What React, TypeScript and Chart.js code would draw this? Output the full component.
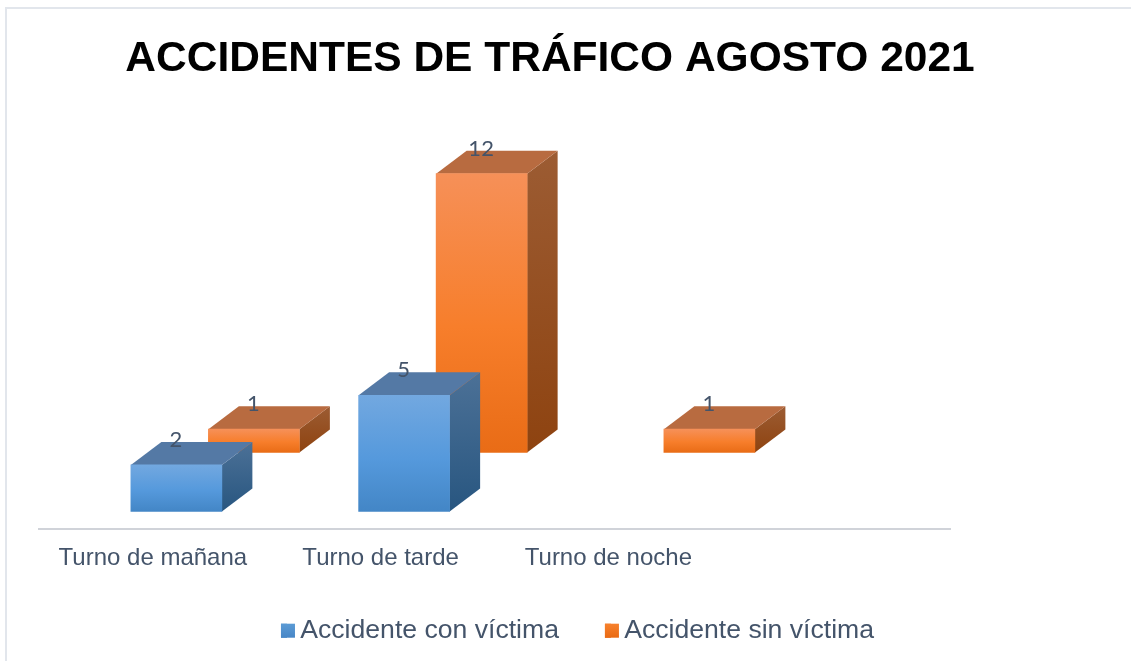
import React, { useEffect, useRef } from "react";
import { Chart, registerables } from "chart.js";

Chart.register(...registerables);

const categories = ["Turno de mañana", "Turno de tarde", "Turno de noche", ""];
const seriesNames = ["Accidente con víctima", "Accidente sin víctima"];
const conVictima = [2, 5, null, null];
const sinVictima = [1, 12, 1, null];

const TEXT = "#44546A";
const SANS = "'Liberation Sans', Arial, sans-serif";

const looks = [
  {
    dx: 23.5, dy: 0,
    front: ["#72A8E0", "#5599DC", "#4386C6"],
    side: ["#4C7197", "#285680"],
    top: "#5479A5",
    swatch: ["#5B9BD5", "#4786C6"],
  },
  {
    dx: 101, dy: -59,
    front: ["#F69058", "#F77E2B", "#E96C16"],
    side: ["#9C5C33", "#8E4310"],
    top: "#B86B40",
    swatch: ["#F7812D", "#E96A13"],
  },
];
const DEPTH_X = 30.5;
const DEPTH_Y = 23;

const frontFill = (look: any) => (c: any) => {
  const v = c.raw;
  if (v == null) return look.front[1];
  const y = c.chart.scales.y;
  const g = c.chart.ctx.createLinearGradient(0, y.getPixelForValue(v), 0, y.getPixelForValue(0));
  g.addColorStop(0, look.front[0]);
  g.addColorStop(0.55, look.front[1]);
  g.addColorStop(1, look.front[2]);
  return g;
};

const bars3d = {
  id: "bars3d",
  afterLayout(chart: any) {
    const t = chart.titleBlock;
    t.left += 55.5; t.right += 55.5;
    const l = chart.legend;
    l.left += 83; l.right += 83;
    l.top -= 7; l.bottom -= 7;
  },
  beforeDatasetDraw(chart: any, args: any) {
    const look = looks[args.index];
    const ctx = chart.ctx;
    ctx.save();
    ctx.translate(look.dx, look.dy);
    args.meta.data.forEach((bar: any, i: number) => {
      if (chart.data.datasets[args.index].data[i] == null) return;
      const { x, y, base, width } = bar.getProps(["x", "y", "base", "width"], true);
      const r = x + width / 2;
      const l = x - width / 2;
      const g = ctx.createLinearGradient(0, y - DEPTH_Y, 0, base);
      g.addColorStop(0, look.side[0]);
      g.addColorStop(1, look.side[1]);
      ctx.fillStyle = g;
      ctx.beginPath();
      ctx.moveTo(r, y);
      ctx.lineTo(r + DEPTH_X, y - DEPTH_Y);
      ctx.lineTo(r + DEPTH_X, base - DEPTH_Y);
      ctx.lineTo(r, base);
      ctx.closePath();
      ctx.fill();
      ctx.fillStyle = look.top;
      ctx.beginPath();
      ctx.moveTo(l, y);
      ctx.lineTo(l + DEPTH_X, y - DEPTH_Y);
      ctx.lineTo(r + DEPTH_X, y - DEPTH_Y);
      ctx.lineTo(r, y);
      ctx.closePath();
      ctx.fill();
    });
  },
  afterDatasetDraw(chart: any) {
    chart.ctx.restore();
  },
  afterDatasetsDraw(chart: any) {
    const ctx = chart.ctx;
    ctx.save();
    ctx.font = "22px Lato, sans-serif";
    ctx.fillStyle = TEXT;
    ctx.textAlign = "center";
    ctx.textBaseline = "middle";
    chart.data.datasets.forEach((ds: any, d: number) => {
      const look = looks[d];
      chart.getDatasetMeta(d).data.forEach((bar: any, i: number) => {
        if (ds.data[i] == null) return;
        ctx.fillText(String(ds.data[i]), bar.x + look.dx - 0.5, bar.y + look.dy - 25);
      });
    });
    ctx.restore();
  },
  afterDraw(chart: any) {
    const ctx = chart.ctx;
    (chart.legend.legendHitBoxes || []).forEach((h: any, i: number) => {
      const look = looks[i];
      const cy = h.top + h.height / 2;
      const g = ctx.createLinearGradient(0, cy - 7, 0, cy + 7);
      g.addColorStop(0, look.swatch[0]);
      g.addColorStop(1, look.swatch[1]);
      ctx.fillStyle = g;
      ctx.fillRect(h.left, cy - 7, 14, 14);
    });
  },
};

export default function App() {
  const ref = useRef<HTMLCanvasElement>(null);
  useEffect(() => {
    const chart = new Chart(ref.current as HTMLCanvasElement, {
      type: "bar",
      data: {
        labels: categories,
        datasets: [
          { label: seriesNames[0], data: conVictima, backgroundColor: frontFill(looks[0]), barThickness: 91, clip: false, grouped: false },
          { label: seriesNames[1], data: sinVictima, backgroundColor: frontFill(looks[1]), barThickness: 91, clip: false, grouped: false },
        ] as any,
      },
      options: {
        responsive: false,
        animation: false,
        devicePixelRatio: 1,
        layout: { padding: { left: 39, right: 181, top: 0, bottom: 0 } },
        scales: {
          x: {
            grid: { display: false },
            border: { display: true, color: "#D0D3D9", width: 2 },
            ticks: { color: TEXT, font: { family: SANS, size: 24 }, padding: 7, maxRotation: 0, autoSkip: false },
            afterFit: (s: any) => { s.height = 49; },
          },
          y: { display: false, min: -0.776, max: 18.36 },
        },
        plugins: {
          title: {
            display: true,
            text: "ACCIDENTES DE TRÁFICO AGOSTO 2021",
            color: "#000000",
            font: { family: SANS, size: 42.5, weight: "bold" },
            padding: { top: 34, bottom: 0 },
          },
          legend: {
            position: "bottom",
            labels: {
              color: TEXT,
              font: { family: SANS, size: 26.6 },
              boxWidth: 6,
              boxHeight: 14,
              padding: 46,
              generateLabels: (chart: any) =>
                chart.data.datasets.map((ds: any, i: number) => ({
                  text: ds.label,
                  fillStyle: looks[i].swatch[1],
                  strokeStyle: looks[i].swatch[1],
                  lineWidth: 0,
                  fontColor: TEXT,
                  datasetIndex: i,
                  hidden: false,
                })),
            },
          },
          tooltip: { enabled: false },
        },
      } as any,
      plugins: [bars3d],
    });
    return () => chart.destroy();
  }, []);
  return (
    <div style={{ position: "absolute", left: 0, top: 0, width: 1131, height: 661, background: "#fff", overflow: "hidden" }}>
      <canvas ref={ref} width={1131} height={661} style={{ display: "block" }} />
      <div style={{ position: "absolute", left: 5, top: 7, right: -4, bottom: -4, borderLeft: "2px solid #E2E6EC", borderTop: "2px solid #E2E6EC", pointerEvents: "none" }} />
    </div>
  );
}
